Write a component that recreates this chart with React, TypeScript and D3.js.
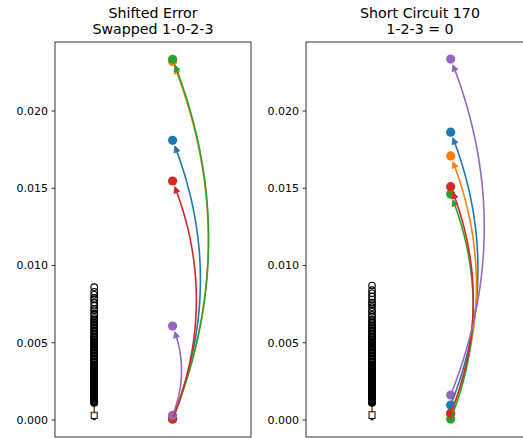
import React from 'react';
import * as d3 from 'd3';

// tab10 order: blue, orange, green, red, purple
const seriesColors = ['#1f77b4', '#ff7f0e', '#2ca02c', '#d62728', '#9467bd'];

const leftTitle = ['Shifted Error', 'Swapped 1-0-2-3'];
const rightTitle = ['Short Circuit 170', '1-2-3 = 0'];

const leftStart = [0.0001, 0.00008, 0.00005, 0.00008, 0.0003];
const leftEnd = [0.0181, 0.0232, 0.02335, 0.01547, 0.00608];
const rightStart = [0.00097, 0.0004, 0.00006, 0.00043, 0.00162];
const rightEnd = [0.01863, 0.01709, 0.01462, 0.0151, 0.02336];

// boxplot stats: [lowWhisker, q1, median, q3, highWhisker]
const leftBox = [0.00002, 0.0001, 0.00045, 0.0005, 0.001];
const rightBox = [0.00002, 0.0001, 0.0005, 0.00054, 0.001];

const leftSparseFliers = [0.0086, 0.0083, 0.0081, 0.0079, 0.0078, 0.0076, 0.0074, 0.0072, 0.0071, 0.0069, 0.0068,
  0.0066, 0.0065, 0.0064, 0.0063, 0.0062, 0.0061, 0.006, 0.0059, 0.0058, 0.0057, 0.0056];
const rightSparseFliers = [0.0087, 0.0084, 0.0082, 0.008, 0.0078, 0.0076, 0.0075, 0.0073, 0.0071, 0.007, 0.0068,
  0.0067, 0.0065, 0.0064, 0.0063, 0.0062, 0.0061, 0.006, 0.0059, 0.0058, 0.0057, 0.0056];
const denseFliers = [0.0055, 0.0054, 0.0053, 0.0052, 0.0051, 0.005, 0.0049, 0.0048, 0.0047, 0.0046, 0.0045,
  0.0044, 0.0043, 0.0042, 0.0041, 0.004, 0.0039, 0.0038, 0.0037, 0.0036, 0.0035, 0.0034, 0.0033, 0.0032,
  0.0031, 0.003, 0.0029, 0.0028, 0.0027, 0.0026, 0.0025, 0.0024, 0.0023, 0.0022, 0.0021, 0.002, 0.0019,
  0.0018, 0.0017, 0.0016, 0.0015, 0.0014, 0.0013, 0.0012, 0.0011];
const denseFliersB = [0.00535, 0.00505, 0.00475, 0.00455, 0.00435, 0.00415, 0.00395, 0.00375, 0.00355, 0.00345,
  0.00335, 0.00325, 0.00315, 0.00305, 0.00295, 0.00285, 0.00275, 0.00265, 0.00255, 0.00245, 0.00235, 0.00225,
  0.00215, 0.00205, 0.00195, 0.00185, 0.00175, 0.00165, 0.00155, 0.00145, 0.00135, 0.00125, 0.00115];

const yTicks = [0, 0.005, 0.01, 0.015, 0.02];

const W = 523, H = 438;
const TOP = 42, BOTTOM = 437;
const FONT = 'DejaVu Sans, Liberation Sans, sans-serif';

const y = d3.scaleLinear().domain([-0.0011, 0.024466]).range([BOTTOM, TOP]);

type Pt = [number, number];

// curved arrow like matplotlib arc3,rad=0.2 with a '-|>' head
function arrowGeom(p1: Pt, p2: Pt, rad: number, shrinkA: number, shrinkB: number, headLen: number, headW: number) {
  const dx = p2[0] - p1[0], dy = p2[1] - p1[1];
  const c: Pt = [(p1[0] + p2[0]) / 2 - rad * dy, (p1[1] + p2[1]) / 2 + rad * dx];
  const q = (t: number): Pt => {
    const a = (1 - t) * (1 - t), b = 2 * (1 - t) * t, e = t * t;
    return [a * p1[0] + b * c[0] + e * p2[0], a * p1[1] + b * c[1] + e * p2[1]];
  };
  const dist = (a: Pt, b: Pt) => Math.hypot(a[0] - b[0], a[1] - b[1]);
  let tA = 0;
  while (tA < 1 && dist(q(tA), p1) < shrinkA) tA += 0.0005;
  let tB = 1;
  while (tB > 0 && dist(q(tB), p2) < shrinkB) tB -= 0.0005;
  const tip = q(tB);
  let tH = tB;
  while (tH > 0 && dist(q(tH), tip) < headLen) tH -= 0.0005;
  const base = q(tH);
  const pts: Pt[] = d3.range(0, 61).map(i => q(tA + (tH + 0.002 - tA) * i / 60));
  const ux = (tip[0] - base[0]) / headLen, uy = (tip[1] - base[1]) / headLen;
  const head: Pt[] = [tip, [base[0] - uy * headW, base[1] + ux * headW], [base[0] + uy * headW, base[1] - ux * headW]];
  return { line: d3.line()(pts) || '', head: 'M' + head.map(p => p.join(',')).join('L') + 'Z' };
}

type PanelProps = {
  title: string[];
  x0: number;
  x1: number;
  xDomain: [number, number];
  starts: number[];
  ends: number[];
  box: number[];
  fliers: number[];
};

function Panel({ title, x0, x1, xDomain, starts, ends, box, fliers }: PanelProps) {
  const x = d3.scaleLinear().domain(xDomain).range([x0, x1]);
  const bx = x(0), px = x(1);
  const boxW = 6, capW = 3;
  const arrows = ends.map((v, i) => arrowGeom([px, y(starts[i])], [px, y(v)], 0.2, 2, 6, 6, 3));
  return (
    <g>
      {title.map((t, i) => (
        <text key={t} x={(x0 + x1) / 2} y={18 + i * 16} textAnchor="middle" fontSize={14.2} fontFamily={FONT} fill="#000">{t}</text>
      ))}
      {yTicks.map(t => (
        <g key={t}>
          <line x1={x0 - 3.5} x2={x0} y1={y(t)} y2={y(t)} stroke="#000" strokeWidth={0.8} />
          <text x={x0 - 7} y={y(t)} dy="0.36em" textAnchor="end" fontSize={11} fontFamily={FONT} fill="#000">{d3.format('.3f')(t)}</text>
        </g>
      ))}
      {/* boxplot */}
      <g stroke="#000" strokeWidth={1} fill="none">
        <line x1={bx} x2={bx} y1={y(box[0])} y2={y(box[1])} />
        <line x1={bx} x2={bx} y1={y(box[3])} y2={y(box[4])} />
        <line x1={bx - capW / 2} x2={bx + capW / 2} y1={y(box[0])} y2={y(box[0])} />
        <line x1={bx - capW / 2} x2={bx + capW / 2} y1={y(box[4])} y2={y(box[4])} />
        <rect x={bx - boxW / 2} y={y(box[3])} width={boxW} height={y(box[1]) - y(box[3])} />
      </g>
      <line x1={bx - boxW / 2} x2={bx + boxW / 2} y1={y(box[2])} y2={y(box[2])} stroke="#ff7f0e" strokeWidth={1} />
      {fliers.map((f, i) => (
        <circle key={i} cx={bx} cy={y(f)} r={3.3} fill="none" stroke="#000" strokeWidth={1.1} />
      ))}
      {/* start and end points */}
      {starts.map((v, i) => (
        <circle key={'s' + i} cx={px} cy={y(v)} r={4.6} fill={seriesColors[i]} />
      ))}
      {ends.map((v, i) => (
        <circle key={'e' + i} cx={px} cy={y(v)} r={4.6} fill={seriesColors[i]} />
      ))}
      {arrows.map((a, i) => (
        <g key={'a' + i}>
          <path d={a.line} fill="none" stroke={seriesColors[i]} strokeWidth={1.6} />
          <path d={a.head} fill={seriesColors[i]} stroke={seriesColors[i]} strokeWidth={1} />
        </g>
      ))}
      <rect x={x0} y={TOP} width={x1 - x0} height={BOTTOM - TOP} fill="none" stroke="#000" strokeWidth={0.8} />
    </g>
  );
}

export default function App() {
  return (
    <svg width={W} height={H} style={{ position: 'absolute', left: 0, top: 0, background: '#fff' }}>
      <rect width={W} height={H} fill="#fff" />
      <Panel title={leftTitle} x0={55} x1={251} xDomain={[-0.5, 2.0]} starts={leftStart} ends={leftEnd}
        box={leftBox} fliers={[...leftSparseFliers, ...denseFliers, ...denseFliersB]} />
      <Panel title={rightTitle} x0={306} x1={534} xDomain={[-0.84, 2.06]} starts={rightStart} ends={rightEnd}
        box={rightBox} fliers={[...rightSparseFliers, ...denseFliers, ...denseFliersB]} />
    </svg>
  );
}
